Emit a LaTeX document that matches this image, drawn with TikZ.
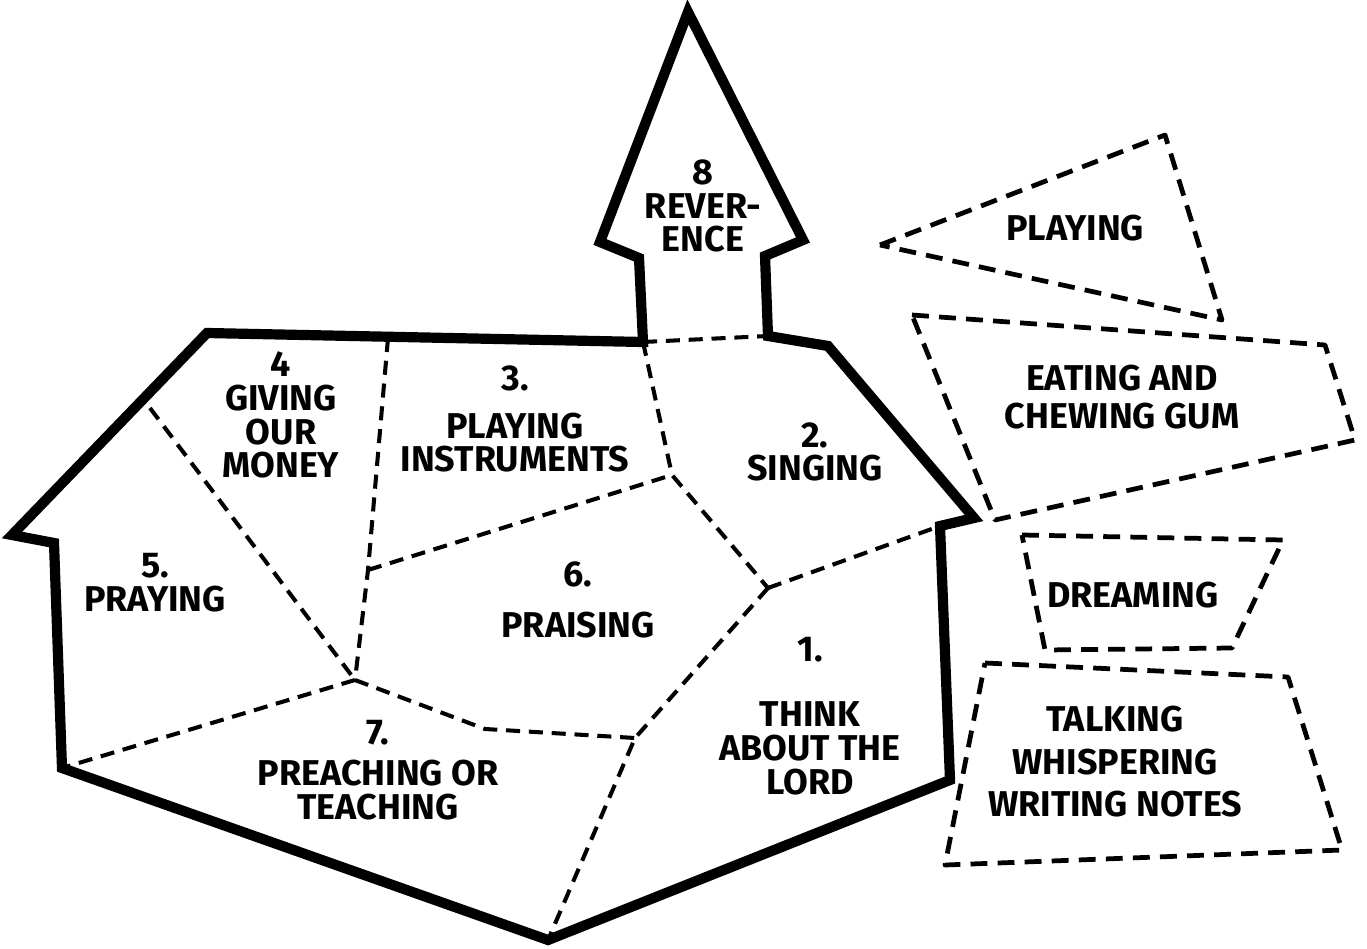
\documentclass[tikz,border=0pt]{standalone}
\usepackage{fontspec}
\setmainfont{Fira Sans}
\usetikzlibrary{positioning}

\begin{document}
\begin{tikzpicture}[
    x=0.01cm, y=-0.01cm,
    wall/.style={draw, line width=2.9pt, line join=miter},
    seam/.style={draw, line width=1.15pt, dash pattern=on 4pt off 2.5pt},
    cutout/.style={draw, line width=1.35pt, dash pattern=on 4.8pt off 2.9pt, line join=round},
    cardtext/.style={align=center, font=\bfseries\fontsize{10.2}{9.6}\selectfont, inner sep=0pt}
]
    \useasboundingbox (0,0) rectangle (1367,949);

    % church outline
    \coordinate (tip) at (688,12);
    \coordinate (shL) at (600,242);
    \coordinate (neckL) at (639,258);
    \coordinate (baseL) at (643,342);
    \coordinate (roofL) at (207,333);
    \coordinate (eaveL) at (12,535);
    \coordinate (eaveLi) at (54,543);
    \coordinate (wallL) at (62,768);
    \coordinate (bottom) at (548,940);
    \coordinate (wallR) at (950,780);
    \coordinate (eaveRi) at (940,526);
    \coordinate (eaveR) at (974,518);
    \coordinate (roofR) at (828,346);
    \coordinate (baseR) at (768,336);
    \coordinate (neckR) at (765,256);
    \coordinate (shR) at (803,240);

    % inner corners
    \coordinate (top34) at (388,338);
    \coordinate (slope45) at (150,408);
    \coordinate (kink36) at (368,570);
    \coordinate (j236) at (672,475);
    \coordinate (j126) at (768,588);
    \coordinate (j567) at (355,680);
    \coordinate (bend67) at (485,729);
    \coordinate (j167) at (635,738);

    \draw [wall] (tip) -- (shL) -- (neckL) -- (baseL) -- (roofL) -- (eaveL) -- (eaveLi)
        -- (wallL) -- (bottom) -- (wallR) -- (eaveRi) -- (eaveR) -- (roofR) -- (baseR)
        -- (neckR) -- (shR) -- cycle;

    \draw [seam] (baseL) -- (baseR);
    \draw [seam] (top34) -- (kink36) -- (j567);
    \draw [seam] (slope45) -- (j567);
    \draw [seam] (kink36) -- (j236);
    \draw [seam] (baseL) -- (j236) -- (j126);
    \draw [seam] (j126) -- (eaveRi);
    \draw [seam] (j126) -- (j167) -- (bottom);
    \draw [seam] (j567) -- (bend67) -- (j167);
    \draw [seam] (j567) -- (wallL);

    \node [cardtext] (reverence) at (703,206) {8\\REVER-\\ENCE};
    \node [cardtext] (giving) at (281,415) {4\\GIVING\\OUR\\MONEY};
    \node [cardtext] (instruments) at (515,419) {3.\\[4pt]PLAYING\\INSTRUMENTS};
    \node [cardtext] (singing) at (815,452) {2.\\SINGING};
    \node [cardtext] (praying) at (155,583) {5.\\PRAYING};
    \node [cardtext] (praising) at (578,600) {6.\\[5pt]PRAISING};
    \node [cardtext] (think) at (810,716) {1.\\[9pt]THINK\\ABOUT THE\\LORD};
    \node [cardtext] (preaching) at (378,770) {7.\\[2pt]PREACHING OR\\TEACHING};

    % pieces that do not belong
    \draw [cutout] (880,245) -- (1165,135) -- (1222,320) -- cycle;
    \draw [cutout] (912,315) -- (1325,345) -- (1355,440) -- (995,520) -- cycle;
    \draw [cutout] (1022,535) -- (1283,540) -- (1232,648) -- (1045,650) -- cycle;
    \draw [cutout] (985,663) -- (1288,677) -- (1342,850) -- (945,865) -- cycle;

    \node [cardtext] (playing) at (1075,228) {PLAYING};
    \node [cardtext] (eating) at (1122,397) {EATING AND\\[1pt]CHEWING GUM};
    \node [cardtext] (dreaming) at (1133,595) {DREAMING};
    \node [cardtext] (talking) at (1115,762) {TALKING\\[2.5pt]WHISPERING\\[2.5pt]WRITING NOTES};
\end{tikzpicture}
\end{document}
